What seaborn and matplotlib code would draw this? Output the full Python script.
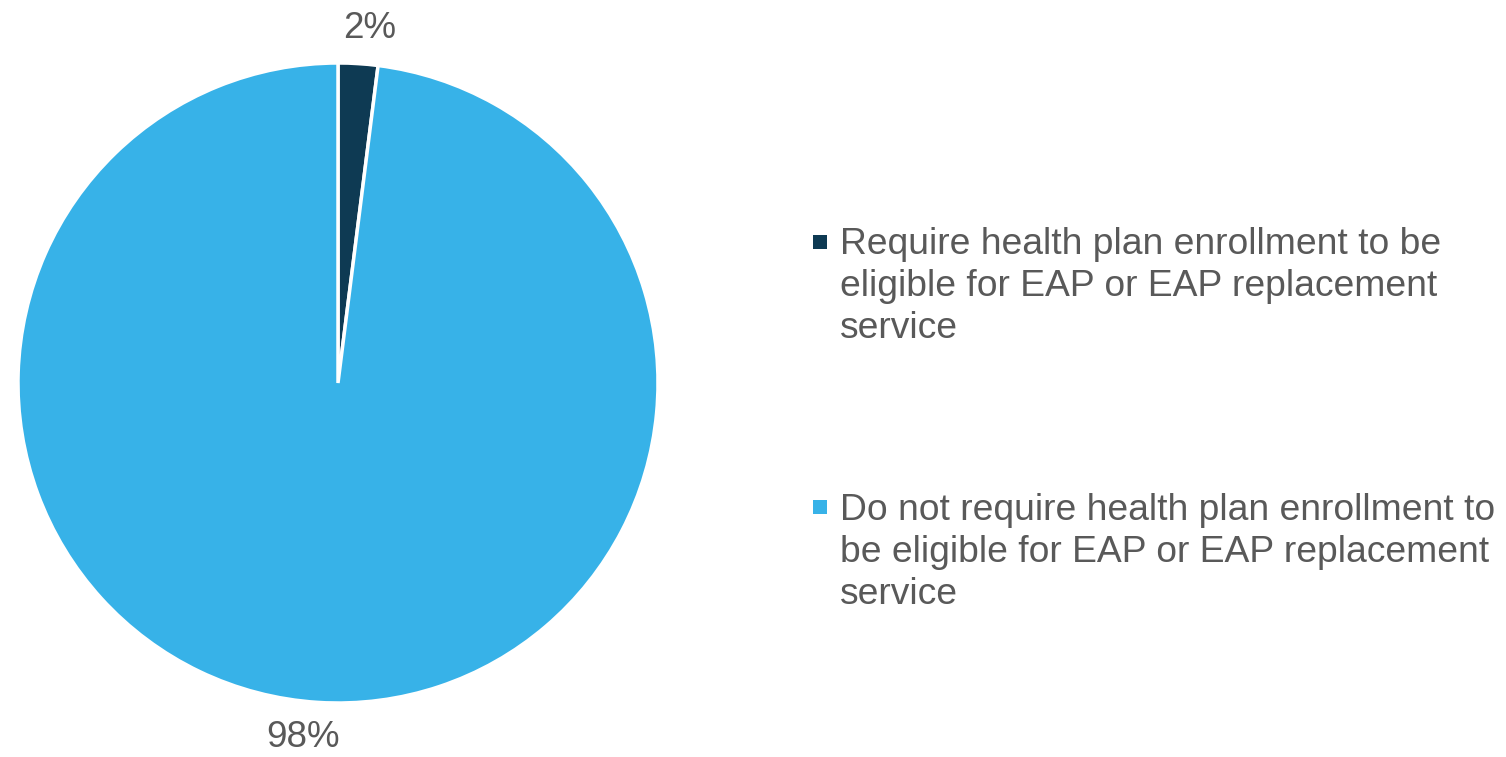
import matplotlib
matplotlib.use("Agg")
import matplotlib.pyplot as plt
from matplotlib.patches import Rectangle
import seaborn as sns

sns.set_theme(style="white")
plt.rcParams["font.family"] = ["Liberation Sans", "DejaVu Sans"]

# Share of employers by eligibility rule
categories = [
    "Require health plan enrollment to be\neligible for EAP or EAP replacement\nservice",
    "Do not require health plan enrollment to\nbe eligible for EAP or EAP replacement\nservice",
]
shares = [2, 98]
colors = ["#0E3A53", "#37B2E8"]
text_color = "#595959"

W, H = 1506, 757
fig = plt.figure(figsize=(W / 100, H / 100), dpi=100)
fig.patch.set_facecolor("white")

# Square axes for the pie (pixel box 18..658 x 63..703)
ax = fig.add_axes([18 / W, (H - 703) / H, 640 / W, 640 / H])
wedges, _, autotexts = ax.pie(
    shares,
    colors=colors,
    startangle=90,
    counterclock=False,
    radius=1.0,
    autopct=lambda p: f"{p:.0f}%",
    pctdistance=1.11,
    wedgeprops=dict(edgecolor="white", linewidth=2.5),
    textprops=dict(fontsize=26.5, color=text_color),
)
ax.set_xlim(-1, 1)
ax.set_ylim(-1, 1)
ax.set_aspect("auto")
ax.axis("off")

# Nudge the percentage labels outward horizontally
autotexts[0].set_x(autotexts[0].get_position()[0] + 0.03)
autotexts[1].set_x(autotexts[1].get_position()[0] - 0.04)

# Legend drawn as square markers with wrapped labels
# (text anchored at the baseline of its last line)
legend_tops = [235, 500]
legend_last_baselines = [338, 604]
for label, color, top, base in zip(categories, colors, legend_tops, legend_last_baselines):
    fig.patches.append(
        Rectangle((813 / W, (H - top - 14) / H), 14 / W, 14 / H,
                  transform=fig.transFigure, facecolor=color, edgecolor="none")
    )
    fig.text(840 / W, (H - base) / H, label, fontsize=26.8, color=text_color,
             ha="left", va="baseline", linespacing=1.25)

fig.savefig("out.png", dpi=100, facecolor="white")
